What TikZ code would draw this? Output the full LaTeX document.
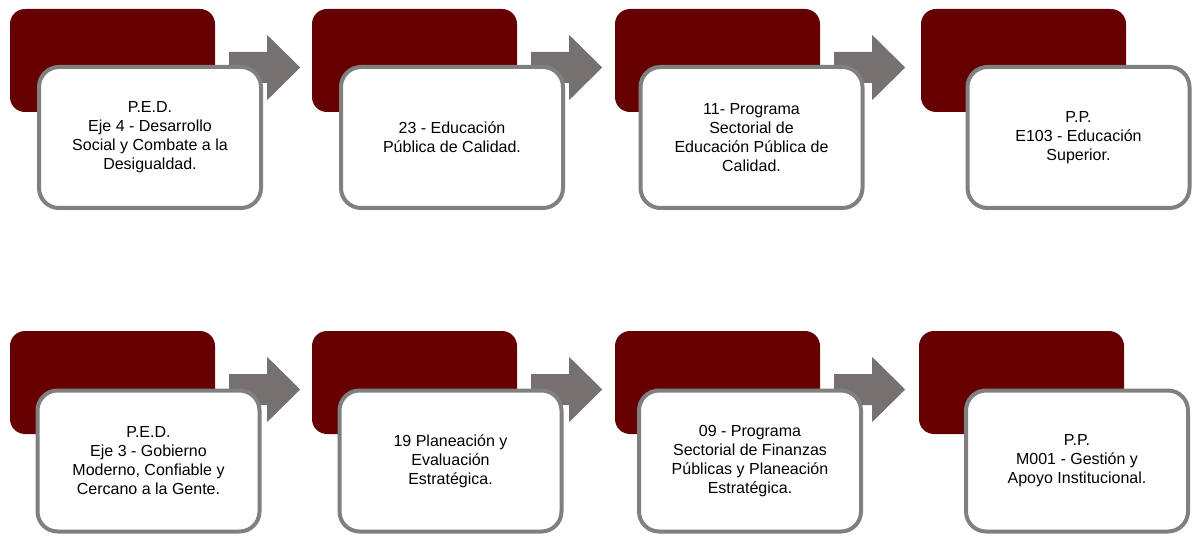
\documentclass[tikz,border=0pt]{standalone}
\usepackage{fontspec}
\setmainfont{Liberation Sans}
\usepackage{xcolor}
\usetikzlibrary{calc, positioning}
\definecolor{vino}{RGB}{102,0,0}
\definecolor{flechagris}{RGB}{118,113,113}
\definecolor{bordegris}{RGB}{128,128,128}

\begin{document}
\begin{tikzpicture}[
		x=1pt, y=-1pt,
		fondo/.style={rectangle, fill=vino, rounded corners=15pt, minimum width=205pt, minimum height=103pt, inner sep=0pt},
		caja/.style={rectangle, draw=bordegris, line width=4pt, fill=white, rounded corners=20pt, minimum width=222pt, minimum height=141pt, inner sep=2pt, align=center, font=\fontsize{16}{19}\selectfont},
		flecha/.style={fill=flechagris}
		]
	
		\useasboundingbox (0,0) rectangle (1194,537);
		\def\ystep{322}
	
		% --- Fila 1 ---
		\node[fondo] (F1) at (112.5, 60.5) {};
		\node[fondo] (F2) at (414.5, 60.5) {};
		\node[fondo] (F3) at (717.5, 60.5) {};
		\node[fondo] (F4) at (1023.5, 60.5) {};
	
		\fill[flecha, shift={(F1.east)}] (14,-8.5) -- (52,-8.5) -- (52,-25.5) -- (85,7) -- (52,39.5) -- (52,22.5) -- (14,22.5) -- cycle;
		\fill[flecha, shift={(F2.east)}] (14,-8.5) -- (52,-8.5) -- (52,-25.5) -- (85,7) -- (52,39.5) -- (52,22.5) -- (14,22.5) -- cycle;
		\fill[flecha, shift={(F3.east)}] (14,-8.5) -- (52,-8.5) -- (52,-25.5) -- (85,7) -- (52,39.5) -- (52,22.5) -- (14,22.5) -- cycle;
	
		\node[caja] (C1) at (150, 137.5) {P.E.D.\\Eje 4 - Desarrollo\\Social y Combate a la\\Desigualdad.};
		\node[caja] (C2) at (452, 137.5) {23 - Educación\\Pública de Calidad.};
		\node[caja] (C3) at (751.5, 137.5) {11- Programa\\Sectorial de\\Educación Pública de\\Calidad.};
		\node[caja] (C4) at (1078.5, 137.5) {P.P.\\E103 - Educación\\Superior.};
	
		% --- Fila 2 ---
		\node[fondo] (G1) at ($(F1)+(0,\ystep)$) {};
		\node[fondo] (G2) at ($(F2)+(0,\ystep)$) {};
		\node[fondo] (G3) at ($(F3)+(0,\ystep)$) {};
		\node[fondo] (G4) at ($(F4)+(-2,\ystep)$) {};
	
		\fill[flecha, shift={(G1.east)}] (14,-8.5) -- (52,-8.5) -- (52,-25.5) -- (85,7) -- (52,39.5) -- (52,22.5) -- (14,22.5) -- cycle;
		\fill[flecha, shift={(G2.east)}] (14,-8.5) -- (52,-8.5) -- (52,-25.5) -- (85,7) -- (52,39.5) -- (52,22.5) -- (14,22.5) -- cycle;
		\fill[flecha, shift={(G3.east)}] (14,-8.5) -- (52,-8.5) -- (52,-25.5) -- (85,7) -- (52,39.5) -- (52,22.5) -- (14,22.5) -- cycle;
	
		\node[caja] (D1) at ($(C1)+(-1.5,\ystep+1.5)$) {P.E.D.\\Eje 3 - Gobierno\\Moderno, Confiable y\\Cercano a la Gente.};
		\node[caja] (D2) at ($(C2)+(-1.5,\ystep+1.5)$) {19 Planeación y\\Evaluación\\Estratégica.};
		\node[caja] (D3) at ($(C3)+(-1.5,\ystep+1.5)$) {09 - Programa\\Sectorial de Finanzas\\Públicas y Planeación\\Estratégica.};
		\node[caja] (D4) at ($(C4)+(-1.5,\ystep+1.5)$) {P.P.\\M001 - Gestión y\\Apoyo Institucional.};
	
	\end{tikzpicture}
\end{document}
